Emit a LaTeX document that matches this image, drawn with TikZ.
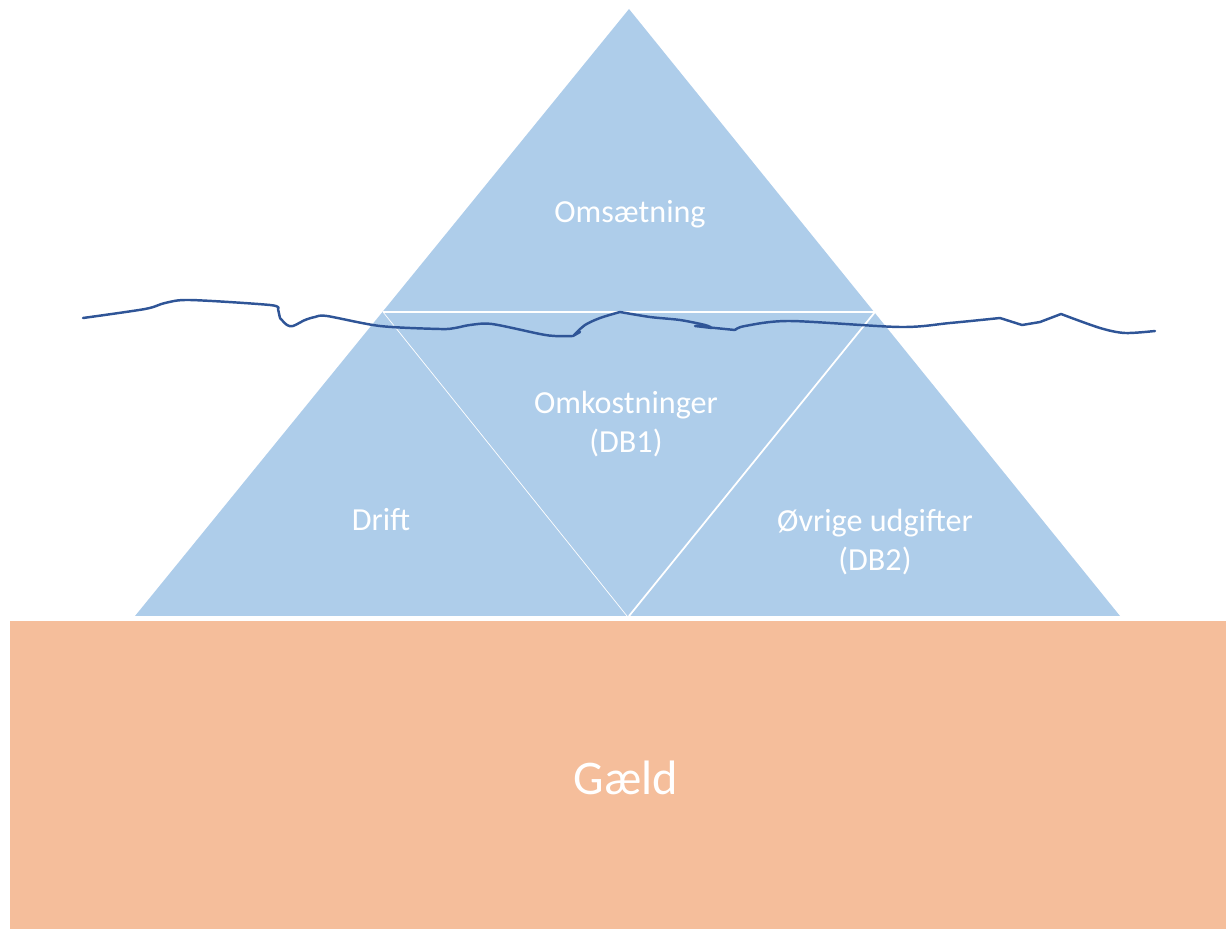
\documentclass[tikz,border=0pt]{standalone}
\usepackage{fontspec}
\setmainfont{Carlito}
\definecolor{iceblue}{HTML}{AECDEA}
\definecolor{debtorange}{HTML}{F5BE9B}
\definecolor{waterline}{HTML}{2F5597}

\begin{document}
\begin{tikzpicture}[x=0.02cm, y=-0.02cm,
        label/.style = {text=white, font=\fontsize{18.3}{22.5}\selectfont, align=center},
        big/.style = {text=white, font=\fontsize{27.5}{33}\selectfont}]
    \useasboundingbox (0,0) rectangle (1226,929);
    % debt block
    \fill[debtorange] (10,621) rectangle (1226,929);
    % iceberg parts
    \fill[iceblue] (629,9) -- (1120,616) -- (135,616) -- cycle;
    \draw[white, line width=1.7pt] (383,312) -- (875,312);
    \draw[white, line width=0.4pt] (383,312) -- (627,616);
    \draw[white, line width=1pt] (875,312) -- (629,616);
    \draw[white, line width=1.2pt] (135,617) -- (1120,617);
    % water surface
    \draw[waterline, line width=1.4pt, line cap=round, line join=round]
        plot[smooth, tension=0.5] coordinates {(83,318) (145,309) (165,303) (190,300) (270,305) (278,309)}
        -- (280,318)
        plot[smooth, tension=0.5] coordinates {(280,318) (287,325) (293,326) (305,320) (315,317) (327,316) (380,326) (440,329) (455,328) (470,325) (492,324) (540,334) (555,336) (573,336)}
        -- (580,332) -- (574,335)
        plot[smooth, tension=0.5] coordinates {(574,335) (585,325) (600,318) (620,312)}
        plot[smooth, tension=0.5] coordinates {(620,312) (650,317) (680,320) (705,325) (712,328)}
        -- (695,326) -- (735,330)
        plot[smooth, tension=0.5] coordinates {(735,330) (745,326) (790,321) (900,327) (950,323) (1000,318)}
        -- (1022,325) -- (1040,322) -- (1061,314)
        plot[smooth, tension=0.5] coordinates {(1061,314) (1100,328) (1125,333) (1155,331)};
    % texts
    \node[label] (top) at (630,214) {Omsætning};
    \node[label] (mid) at (626,424) {Omkostninger\\(DB1)};
    \node[label] (left) at (381,520) {Drift};
    \node[label] (right) at (875,542) {Øvrige udgifter\\(DB2)};
    \node[big] (debt) at (626,778) {Gæld};
\end{tikzpicture}
\end{document}
